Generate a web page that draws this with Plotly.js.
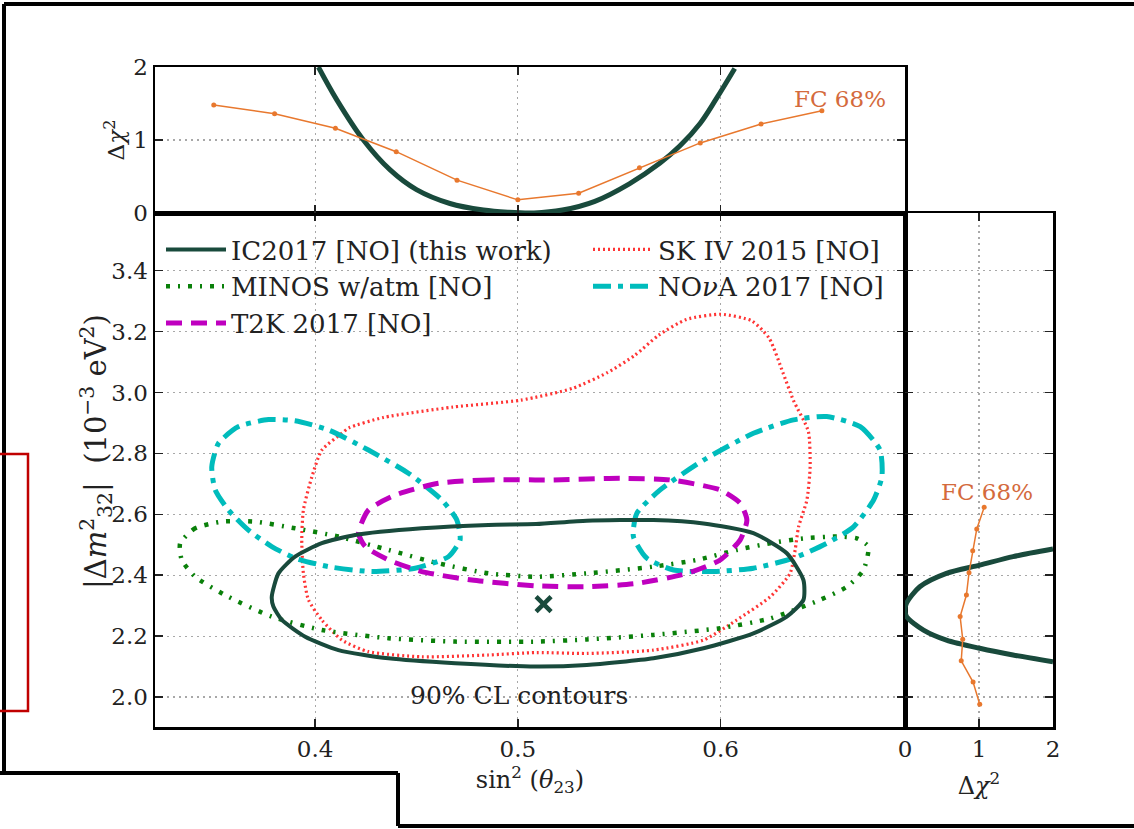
<!DOCTYPE html>
<html><head><meta charset="utf-8">
<script src="https://cdn.plot.ly/plotly-3.0.1.min.js"></script>
<style>html,body{margin:0;padding:0;background:#fff}#chart{width:1134px;height:829px}</style>
</head><body><div id="chart"></div>
<script>
// ---- Data ----
const icX = [0.3786,0.3819,0.3901,0.4033,0.4197,0.4526,0.4855,0.5090,0.5340,0.5669,0.5916,0.6162,0.6327,0.6409,0.6409,0.6327,0.6162,0.5916,0.5669,0.5340,0.5090,0.4691,0.4362,0.4115,0.3951,0.3836,0.3794,0.3786];
const icY = [2.329,2.406,2.461,2.505,2.532,2.554,2.565,2.568,2.579,2.581,2.570,2.538,2.472,2.384,2.319,2.264,2.209,2.160,2.127,2.105,2.100,2.111,2.127,2.154,2.198,2.253,2.297,2.329];

const skX = [0.4167,0.4132,0.4033,0.3984,0.3942,0.3934,0.3942,0.3967,0.4033,0.4132,0.4263,0.4526,0.4855,0.5093,0.5340,0.5669,0.5916,0.6080,0.6245,0.6343,0.6368,0.6385,0.6426,0.6442,0.6433,0.6359,0.6308,0.6240,0.6155,0.6002,0.5832,0.5696,0.5577,0.5441,0.5271,0.5016,0.4677,0.4337,0.4167];
const skY = [2.884,2.866,2.811,2.723,2.614,2.516,2.406,2.319,2.253,2.187,2.149,2.132,2.138,2.146,2.143,2.154,2.187,2.253,2.329,2.406,2.483,2.559,2.647,2.756,2.873,2.975,3.065,3.178,3.235,3.257,3.240,3.189,3.122,3.065,3.014,2.975,2.952,2.918,2.884];

const minosX = [0.3540,0.3408,0.3334,0.3342,0.3408,0.3572,0.3786,0.4033,0.4362,0.4691,0.5093,0.5340,0.5669,0.5998,0.6245,0.6491,0.6623,0.6705,0.6729,0.6672,0.6573,0.6409,0.6245,0.6080,0.5883,0.5669,0.5340,0.5093,0.4855,0.4608,0.4362,0.4115,0.3901,0.3704,0.3540];
const minosY = [2.576,2.554,2.505,2.450,2.395,2.329,2.264,2.220,2.193,2.182,2.182,2.189,2.204,2.226,2.258,2.319,2.362,2.417,2.494,2.521,2.527,2.521,2.505,2.483,2.450,2.428,2.406,2.395,2.406,2.439,2.483,2.527,2.554,2.576,2.576];

const novaLeftX = [0.3770,0.3622,0.3523,0.3490,0.3507,0.3572,0.3671,0.3786,0.3901,0.4066,0.4280,0.4493,0.4658,0.4715,0.4699,0.4625,0.4460,0.4263,0.4066,0.3901,0.3770];
const novaLeftY = [2.911,2.888,2.833,2.756,2.680,2.614,2.548,2.494,2.456,2.428,2.412,2.423,2.461,2.516,2.581,2.647,2.735,2.811,2.877,2.907,2.911];
const novaRightX = [0.6524,0.6689,0.6787,0.6796,0.6755,0.6656,0.6524,0.6360,0.6162,0.5965,0.5768,0.5636,0.5570,0.5587,0.5702,0.5916,0.6162,0.6360,0.6524];
const novaRightY = [2.921,2.888,2.811,2.723,2.647,2.559,2.505,2.456,2.423,2.412,2.417,2.456,2.527,2.603,2.680,2.778,2.866,2.910,2.921];

const t2kX = [0.5085,0.4855,0.4608,0.4395,0.4263,0.4214,0.4247,0.4362,0.4526,0.4773,0.5093,0.5340,0.5587,0.5834,0.5998,0.6097,0.6130,0.6097,0.5998,0.5751,0.5504,0.5176,0.5085];
const t2kY = [2.713,2.713,2.702,2.663,2.614,2.538,2.494,2.450,2.412,2.384,2.365,2.362,2.373,2.406,2.450,2.516,2.581,2.636,2.680,2.713,2.718,2.713,2.713];

const bestFitX = [0.5127];
const bestFitY = [2.305];

// top panel: delta chi2 vs sin^2(theta23)
const icTopX = [0.4016,0.4107,0.4238,0.4370,0.4500,0.4665,0.4830,0.4950,0.5080,0.5220,0.5380,0.5550,0.5700,0.5800,0.5900,0.5980,0.6070];
const icTopY = [2.00,1.55,1.00,0.59,0.32,0.13,0.04,0.01,0.00,0.04,0.16,0.40,0.68,0.92,1.23,1.57,1.98];
const fcTopX = [0.35,0.38,0.41,0.44,0.47,0.50,0.53,0.56,0.59,0.62,0.65];
const fcTopY = [1.48,1.36,1.16,0.84,0.45,0.18,0.27,0.62,0.96,1.22,1.40];

// right panel: delta chi2 vs |dm2_32|
const icRightX = [2.00,1.46,1.01,0.56,0.20,0.02,0.00,0.02,0.25,0.56,1.01,1.46,2.00];
const icRightY = [2.486,2.461,2.433,2.406,2.362,2.308,2.286,2.264,2.220,2.187,2.160,2.138,2.116];
const fcRightX = [1.01,0.92,0.76,0.78,0.745,0.83,0.865,0.915,0.97,1.07];
const fcRightY = [1.976,2.049,2.119,2.190,2.264,2.335,2.408,2.480,2.552,2.623];

const mainXTicks = [0.4,0.5,0.6];
const mainYTicks = [2.0,2.2,2.4,2.6,2.8,3.0,3.2,3.4];
const chiTicks = [0,1,2];

const seriesNames = ['IC2017 [NO] (this work)','SK IV 2015 [NO]','MINOS w/atm [NO]','NO<i>ν</i>A 2017 [NO]','T2K 2017 [NO]'];

// ---- Styles ----
const FONT = 'DejaVu Serif, Liberation Serif, serif';
const C_IC = '#194a3c', C_SK = '#ff3535', C_MINOS = '#0a800a', C_NOVA = '#00bcbc', C_T2K = '#bf00bf', C_FC = '#e8782e', C_FCT = '#d46a3c';
const TXT = '#222';

const novaX = novaLeftX.concat([null], novaRightX);
const novaY = novaLeftY.concat([null], novaRightY);

const traces = [
  {x: skX, y: skY, type:'scatter', mode:'lines', name: seriesNames[1], legendrank: 2,
   line:{color:C_SK, width:3.2, dash:'2px,3px', shape:'spline', smoothing:0.6}, xaxis:'x', yaxis:'y'},
  {x: minosX, y: minosY, type:'scatter', mode:'lines', name: seriesNames[2], legendrank: 3,
   line:{color:C_MINOS, width:4.5, dash:'4px,8px,2px,8px', shape:'spline', smoothing:0.6}, xaxis:'x', yaxis:'y'},
  {x: novaX, y: novaY, type:'scatter', mode:'lines', name: seriesNames[3], legendrank: 4, connectgaps:false,
   line:{color:C_NOVA, width:5, dash:'18px,7px,5px,7px', shape:'spline', smoothing:0.6}, xaxis:'x', yaxis:'y'},
  {x: t2kX, y: t2kY, type:'scatter', mode:'lines', name: seriesNames[4], legendrank: 5,
   line:{color:C_T2K, width:5, dash:'16px,9px', shape:'spline', smoothing:0.6}, xaxis:'x', yaxis:'y'},
  {x: icX, y: icY, type:'scatter', mode:'lines', name: seriesNames[0], legendrank: 1,
   line:{color:C_IC, width:4, shape:'spline', smoothing:0.6}, xaxis:'x', yaxis:'y'},
  {x: bestFitX, y: bestFitY, type:'scatter', mode:'markers', showlegend:false, hoverinfo:'skip',
   marker:{symbol:'x-thin', size:15, line:{color:C_IC, width:4.5}}, xaxis:'x', yaxis:'y'},
  {x: icTopX, y: icTopY, type:'scatter', mode:'lines', showlegend:false,
   line:{color:C_IC, width:5, shape:'spline', smoothing:1}, xaxis:'x2', yaxis:'y2'},
  {x: fcTopX, y: fcTopY, type:'scatter', mode:'lines+markers', showlegend:false,
   line:{color:C_FC, width:1.5}, marker:{color:C_FC, size:5}, xaxis:'x2', yaxis:'y2'},
  {x: icRightX, y: icRightY, type:'scatter', mode:'lines', showlegend:false,
   line:{color:C_IC, width:5, shape:'spline', smoothing:0.8}, xaxis:'x3', yaxis:'y3'},
  {x: fcRightX, y: fcRightY, type:'scatter', mode:'lines+markers', showlegend:false,
   line:{color:C_FC, width:1.5}, marker:{color:C_FC, size:5}, xaxis:'x3', yaxis:'y3'}
];

const axisBase = {
  showline:true, linecolor:'#000', linewidth:2.5, mirror:'ticks',
  ticks:'inside', ticklen:8, tickwidth:1.5, tickcolor:'#222',
  showgrid:true, gridcolor:'#a8a8a8', griddash:'1.5px,4.5px', gridwidth:1.2,
  zeroline:false, tickfont:{family:FONT, size:23, color:TXT}
};

const W = 1134, H = 829;
const px = v => v / W, py = v => 1 - v / H;

const layout = {
  width: W, height: H,
  margin:{l:0, r:0, t:0, b:0},
  paper_bgcolor:'#fff', plot_bgcolor:'#fff',
  font:{family:FONT, size:22, color:TXT},
  showlegend:true,
  legend:{orientation:'h', x:px(161), y:py(226), xanchor:'left', yanchor:'top',
          itemwidth:60, entrywidth:352, entrywidthmode:'pixels', bgcolor:'rgba(0,0,0,0)',
          font:{family:FONT, size:26, color:TXT}, traceorder:'normal'},
  xaxis: Object.assign({}, axisBase, {domain:[px(155), px(905)], range:[0.321, 0.691], anchor:'y',
          tickvals: mainXTicks, ticktext: mainXTicks.map(v => v.toFixed(1)),
          title:{text:'sin<sup>2</sup> (<i>θ</i><sub>23</sub>)', font:{family:FONT, size:24, color:TXT}, standoff:8}}),
  yaxis: Object.assign({}, axisBase, {domain:[py(727), py(213)], range:[1.9015, 3.5895], anchor:'x',
          tickvals: mainYTicks, ticktext: mainYTicks.map(v => v.toFixed(1))}),
  xaxis2: Object.assign({}, axisBase, {domain:[px(155), px(905)], range:[0.321, 0.691], anchor:'y2', matches:'x',
          tickvals: mainXTicks, showticklabels:false}),
  yaxis2: Object.assign({}, axisBase, {domain:[py(213), py(67)], range:[0, 2], anchor:'x2',
          tickvals: chiTicks, ticktext: chiTicks.map(String),
          title:{text:'Δ<i>χ</i><sup>2</sup>', font:{family:FONT, size:23, color:TXT}, standoff:2}}),
  xaxis3: Object.assign({}, axisBase, {domain:[px(905), px(1053)], range:[0, 2], anchor:'y3',
          tickvals: chiTicks, ticktext: chiTicks.map(String),
          title:{text:'Δ<i>χ</i><sup>2</sup>', font:{family:FONT, size:24, color:TXT}, standoff:16}}),
  yaxis3: Object.assign({}, axisBase, {domain:[py(727), py(213)], range:[1.9015, 3.5895], anchor:'x3', matches:'y',
          tickvals: mainYTicks, showticklabels:false}),
  annotations:[
    {text:'|Δ<i>m</i><sup>2</sup><sub>32</sub>|  (10<sup>−3</sup> eV<sup>2</sup>)', xref:'paper', yref:'paper',
     x:px(96), y:py(452), textangle:-90, showarrow:false, xanchor:'center', yanchor:'middle',
     font:{family:FONT, size:29, color:TXT}},
    {text:'90% CL contours', x:0.5006, y:2.0066, xref:'x', yref:'y', showarrow:false,
     font:{family:FONT, size:25, color:TXT}},
    {text:'FC 68%', x:0.659, y:1.56, xref:'x2', yref:'y2', showarrow:false,
     font:{family:FONT, size:23, color:C_FCT}},
    {text:'FC 68%', x:1.11, y:2.673, xref:'x3', yref:'y3', showarrow:false,
     font:{family:FONT, size:23, color:C_FCT}}
  ],
  shapes:[
    // surrounding frame fragments of the screenshot
    {type:'line', xref:'paper', yref:'paper', x0:px(4), x1:px(1134), y0:py(4), y1:py(4), line:{color:'#000', width:4}},
    {type:'line', xref:'paper', yref:'paper', x0:px(4), x1:px(4), y0:py(4), y1:py(773), line:{color:'#000', width:4}},
    {type:'line', xref:'paper', yref:'paper', x0:px(0), x1:px(398), y0:py(773), y1:py(773), line:{color:'#000', width:4}},
    {type:'line', xref:'paper', yref:'paper', x0:px(398), x1:px(398), y0:py(773), y1:py(826), line:{color:'#000', width:4}},
    {type:'line', xref:'paper', yref:'paper', x0:px(398), x1:px(1134), y0:py(826), y1:py(826), line:{color:'#000', width:4}},
    {type:'rect', xref:'paper', yref:'paper', x0:px(-4), x1:px(28), y0:py(711), y1:py(454), line:{color:'#c00000', width:2.5}}
  ]
};

Plotly.newPlot('chart', traces, layout, {displayModeBar:false, staticPlot:true});
</script>
</body></html>
